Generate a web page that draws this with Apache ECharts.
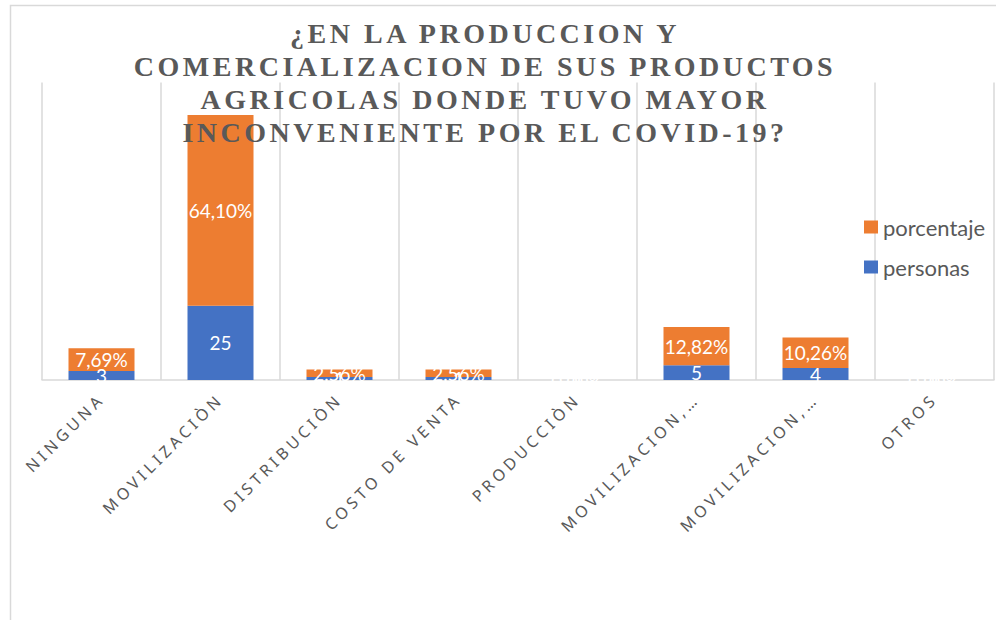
<!DOCTYPE html>
<html>
<head>
<meta charset="utf-8">
<script src="https://cdn.jsdelivr.net/npm/echarts@6/dist/echarts.min.js"></script>
<style>
html,body{margin:0;padding:0;background:#fff;}
#chart{width:996px;height:620px;}
#chart text[style*="Liberation Serif"]{letter-spacing:3.5px;}
#chart text[style*="Noto Sans"]{letter-spacing:4px;}
</style>
</head>
<body>
<div id="chart"></div>
<script>
const titleText = '¿EN LA PRODUCCION Y\nCOMERCIALIZACION DE SUS PRODUCTOS\nAGRICOLAS DONDE TUVO MAYOR\nINCONVENIENTE POR EL COVID-19?';
const categories = ['NINGUNA','MOVILIZACIÒN','DISTRIBUCIÒN','COSTO DE VENTA','PRODUCCIÒN','MOVILIZACION,…','MOVILIZACION,…','OTROS'];
const personas = [3, 25, 1, 1, 0, 5, 4, 0];
const porcentaje = [7.69, 64.10, 2.56, 2.56, 0, 12.82, 10.26, 0];

const chart = echarts.init(document.getElementById('chart'), null, {renderer: 'svg'});
const labelFont = 'Lato';
chart.setOption({
  animation: false,
  backgroundColor: '#fff',
  graphic: [{
    type: 'rect', z: -10, silent: true,
    shape: {x: 10.5, y: 5.5, width: 1000, height: 700},
    style: {fill: 'none', stroke: '#d9d9d9', lineWidth: 1.5}
  }],
  title: {
    text: titleText,
    left: 480, top: 12, textAlign: 'center',
    textStyle: {
      fontFamily: 'Liberation Serif', fontWeight: 'bold', fontSize: 28,
      lineHeight: 33, color: '#595959'
    }
  },
  legend: {
    orient: 'vertical', left: 859, top: 211,
    itemWidth: 14, itemHeight: 13, itemGap: 18,
    icon: 'rect',
    data: ['porcentaje', 'personas'],
    textStyle: {fontFamily: labelFont, fontSize: 22, color: '#595959'}
  },
  grid: {left: 42, right: 2, top: 82.5, bottom: 240, containLabel: false},
  xAxis: {
    type: 'category',
    data: categories,
    axisLine: {lineStyle: {color: '#d9d9d9', width: 1.5}},
    axisTick: {show: false},
    splitLine: {show: true, lineStyle: {color: '#d9d9d9', width: 1.5}},
    axisLabel: {
      interval: 0, rotate: 45, margin: 16,
      fontFamily: 'Noto Sans', fontSize: 16, color: '#595959'
    }
  },
  yAxis: {
    type: 'value', min: 0, max: 100, show: false,
    splitLine: {show: false}
  },
  series: [
    {
      name: 'personas', type: 'bar', stack: 'total', data: personas,
      barWidth: 66,
      itemStyle: {color: '#4472C4'},
      label: {show: true, position: 'inside', color: '#fff', fontFamily: labelFont, fontSize: 19}
    },
    {
      name: 'porcentaje', type: 'bar', stack: 'total', data: porcentaje,
      barWidth: 66,
      itemStyle: {color: '#ED7D31'},
      label: {
        show: true, position: 'inside', color: '#fff', fontFamily: labelFont, fontSize: 19,
        formatter: p => p.value.toFixed(2).replace('.', ',') + '%'
      }
    }
  ]
});
</script>
</body>
</html>
